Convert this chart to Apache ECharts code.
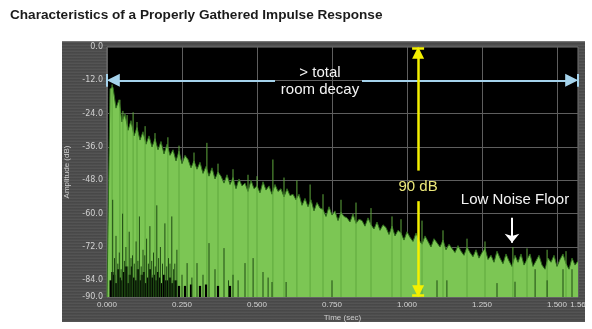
<!DOCTYPE html>
<html><head><meta charset="utf-8">
<script src="https://cdn.jsdelivr.net/npm/echarts@6/dist/echarts.min.js"></script>
<style>
html,body{margin:0;padding:0;background:#fff;}
#wrap{position:relative;width:592px;height:329px;}
#panel{position:absolute;left:62px;top:41px;width:523px;height:280px;
 background-color:#4b4b4b;
 background-image:repeating-linear-gradient(0deg,rgba(255,255,255,0.05) 0px,rgba(255,255,255,0.05) 1px,rgba(0,0,0,0.07) 2px,rgba(0,0,0,0) 3px);
 border-top:1px solid #777;}
#c{position:absolute;left:0;top:0;width:592px;height:329px;}
</style>
</head><body><div id="wrap"><div id="panel"></div><div id="c"></div></div>
<script>
const TITLE = 'Characteristics of a Properly Gathered Impulse Response';
const X_NAME = 'Time (sec)';
const Y_NAME = 'Amplitude (dB)';
const X_MIN = 0, X_MAX = 1.57, Y_MIN = -90, Y_MAX = 0;
const TIME_STEP = 0.01; // seconds between envelope samples

// upper envelope of the response, dB, one value per TIME_STEP starting at t = 0
const envelopeDb = [
 -90, -15, -14.5, -22, -19, -27, -24, -30, -26.5, -32,
 -29, -33.5, -30.5, -35, -32, -36, -33, -37, -34, -38.5,
 -35, -39, -37, -41, -37.5, -42, -39, -40.5, -43.5, -41,
 -44, -41.5, -45.5, -43, -46.5, -43.5, -47.5, -45, -46.5, -49,
 -46, -49.5, -47, -51, -47.5, -50, -49, -52, -48, -51,
 -50, -52.5, -48.5, -51.5, -50, -53, -49.5, -52, -51, -54,
 -51, -53.5, -53, -55, -53, -57, -54.5, -57.5, -55, -59,
 -56, -58, -58.5, -61, -57.5, -60.5, -59, -62.5, -59.5, -61,
 -61.5, -63, -60, -63.5, -62, -62.5, -64.5, -61.5, -64, -65.5,
 -63, -66, -64, -65, -67.5, -64.5, -68, -66, -67, -69.5,
 -66.5, -68.5, -70, -67, -69.5, -71, -68, -70, -72, -69,
 -70.5, -72, -69.5, -73, -71, -72.5, -74, -71.5, -73.5, -75,
 -72, -74, -75.5, -73, -76, -74, -72.5, -76.5, -75, -77.5,
 -73.5, -76, -78, -74.5, -77, -79, -75, -77.5, -74.5, -78.5,
 -76.5, -74.5, -79, -77, -75, -78.5, -80, -76, -77.5, -75,
 -79, -76.5, -74.5, -78, -80, -76, -78.5, -77
];

// isolated peaks that rise above the envelope: [time s, dB]
const spikes = [
 [0.017,-13.5],[0.043,-19],[0.053,-23],[0.067,-24.5],[0.087,-23.5],[0.1,-27],
 [0.127,-28.5],[0.16,-31],[0.203,-32.5],[0.24,-35.5],[0.29,-38],[0.333,-34.5],
 [0.37,-42],[0.42,-44],[0.47,-46],[0.5,-46.5],[0.553,-40.5],[0.59,-47],
 [0.633,-48],[0.677,-49.5],[0.72,-53],[0.78,-55],[0.83,-56],[0.88,-58],
 [0.95,-61],[0.98,-62],[1.05,-62.5],[1.12,-66],[1.2,-69],[1.26,-70],
 [1.353,-72],[1.4,-72.5],[1.467,-73],[1.53,-73.5]
];

// dark low-level samples rising from the floor: [time s, dB]
const floorDark = [
 [0.019,-55],[0.025,-76],[0.03,-68],[0.036,-78],[0.041,-74],[0.047,-80],[0.052,-60],
 [0.058,-77],[0.063,-72],[0.069,-79],[0.074,-66.5],[0.08,-76],[0.085,-75],[0.091,-78],
 [0.097,-70],[0.103,-77],[0.108,-61],[0.114,-79],[0.12,-73],[0.126,-75],[0.132,-69],
 [0.138,-78],[0.143,-64.5],[0.149,-77],[0.155,-74],[0.161,-79],[0.166,-57],[0.172,-76],
 [0.178,-72],[0.185,-78],[0.193,-63.5],[0.199,-79],[0.205,-76],[0.21,-78],[0.216,-61],
 [0.222,-80],[0.226,-78],[0.233,-73],[0.25,-82],[0.267,-77.8],[0.283,-83],[0.3,-77.8],
 [0.32,-82],[0.34,-70.6],[0.36,-80],[0.39,-72.4],[0.405,-84],[0.42,-82],[0.437,-84],
 [0.46,-77.8],[0.487,-76],[0.52,-81],[0.537,-83],[0.55,-84.6],[0.597,-84.6],[0.75,-84],
 [1.1,-84],[1.133,-84],[1.3,-85],[1.36,-84.5],[1.427,-80],[1.467,-84],[1.52,-80],[1.55,-80]
];

// near-silent samples at the start (black gaps at the floor): [time s, dB]
const floorBlack = [
 [0.012,-84],[0.018,-81],[0.024,-82],[0.03,-85],[0.037,-80],[0.043,-83],[0.05,-84],
 [0.056,-81],[0.063,-79],[0.07,-85],[0.076,-82],[0.083,-79],[0.09,-83],[0.096,-84],
 [0.103,-80],[0.11,-84],[0.116,-82],[0.123,-81],[0.13,-85],[0.136,-83],[0.143,-80],
 [0.15,-83],[0.156,-82],[0.163,-84],[0.17,-81],[0.176,-83],[0.183,-85],[0.19,-82],
 [0.196,-84],[0.203,-84],[0.21,-83],[0.216,-85],[0.223,-84],[0.23,-84],[0.24,-86],
 [0.26,-86],[0.28,-85.5],[0.31,-86],[0.33,-85.5],[0.37,-86],[0.41,-86]
];

const yTickValues = [0,-12,-24,-36,-48,-60,-72,-84,-90];
const yTickLabels = ['0.0','-12.0','-24.0','-36.0','-48.0','-60.0','-72.0','-84.0','-90.0'];
const xTickValues = [0,0.25,0.5,0.75,1,1.25,1.5,1.57];
const xTickLabels = ['0.000','0.250','0.500','0.750','1.000','1.250','1.500','1.56'];
const yGridValues = [-12,-24,-36,-48,-60,-72,-84];

// annotations
const decaySpanDb = -12;               // cyan "> total room decay" arrow level
const decayTextGap = [0.56, 0.85];     // gap in the cyan arrow for the text
const rangeTime = 1.037;               // yellow 90 dB arrow position
const rangeTextGap = [-44.5, -55.5];
const floorArrow = {t: 1.35, from: -61.5, to: -70.5};

const GREEN = '#7cc654';
const chart = echarts.init(document.getElementById('c'), null, {renderer: 'canvas'});

function vLines(color, width) {
  return function (params, api) {
    const top = api.coord([api.value(0), api.value(1)]);
    const bot = api.coord([api.value(0), Y_MIN]);
    return {type: 'line', shape: {x1: top[0], y1: top[1], x2: bot[0], y2: bot[1]},
      style: {stroke: color, lineWidth: width}};
  };
}
const tickLabel = (vals, labels) => v => {
  const i = vals.findIndex(x => Math.abs(x - v) < 1e-6);
  return i >= 0 ? labels[i] : '';
};

const CYAN = '#a5d3ec', YEL = '#f4f000';
const tri = 'triangle';
// half an arrowhead, in data units, so that the head's tip lands on the end point
const HEAD_T = 0.021, HEAD_DB = 2.1;
const solid = (color, width) => ({color: color, width: width, type: 'solid'});

const option = {
  animation: false,
  backgroundColor: 'transparent',
  title: {text: TITLE, left: 5, top: 3,
    textStyle: {fontFamily: 'Liberation Sans, Arial', fontSize: 13.6, fontWeight: 'bold', color: '#1b1b1b'}},
  grid: {left: 107, right: 14, top: 47, bottom: 32, show: true, backgroundColor: '#000', borderColor: '#777', borderWidth: 1},
  xAxis: {
    type: 'value', min: X_MIN, max: X_MAX, interval: 0.25,
    name: X_NAME, nameLocation: 'middle', nameGap: 13,
    nameTextStyle: {color: '#cfcfcf', fontSize: 8, fontFamily: 'Liberation Sans, Arial'},
    axisLine: {show: false}, axisTick: {show: false},
    axisLabel: {customValues: xTickValues, formatter: tickLabel(xTickValues, xTickLabels),
      color: '#d0d0d0', fontSize: 8, margin: 4, fontFamily: 'Liberation Sans, Arial', hideOverlap: false},
    splitLine: {show: true, lineStyle: {color: '#5e5e5e', width: 1}}
  },
  yAxis: {
    type: 'value', min: Y_MIN, max: Y_MAX,
    name: Y_NAME, nameLocation: 'middle', nameGap: 36, nameRotate: 90,
    nameTextStyle: {color: '#cfcfcf', fontSize: 8, fontFamily: 'Liberation Sans, Arial'},
    axisLine: {show: false}, axisTick: {show: false},
    axisLabel: {customValues: yTickValues, formatter: tickLabel(yTickValues, yTickLabels),
      color: '#d0d0d0', fontSize: 8, margin: 4, fontFamily: 'DejaVu Sans'},
    splitLine: {show: false}
  },
  series: [
    {type: 'line', name: 'grid', data: [], z: 1, silent: true,
      markLine: {silent: true, symbol: 'none', z: 1, label: {show: false},
        lineStyle: solid('#5e5e5e', 1),
        data: yGridValues.map(v => ({yAxis: v}))}},
    {type: 'line', name: 'envelope', z: 2, symbol: 'none', silent: true,
      data: envelopeDb.map((v, i) => [+(i * TIME_STEP).toFixed(3), v]),
      lineStyle: {color: '#2f6b1d', width: 1},
      areaStyle: {color: GREEN, origin: 'start', opacity: 1}},
    {type: 'custom', name: 'spikes', z: 3, silent: true, renderItem: vLines('#5ea83c', 1),
      encode: {x: 0, y: 1}, data: spikes},
    {type: 'custom', name: 'floorBlack', z: 4, silent: true, renderItem: vLines('#000', 2.2),
      encode: {x: 0, y: 1}, data: floorBlack},
    {type: 'custom', name: 'floorDark', z: 5, silent: true, renderItem: vLines('#1f4a13', 1),
      encode: {x: 0, y: 1}, data: floorDark},
    {type: 'line', name: 'annotations', data: [], z: 10, silent: true,
      markLine: {silent: true, z: 10, label: {show: false}, symbol: 'none', lineStyle: solid(CYAN, 2),
        data: [
          [{coord: [X_MIN + HEAD_T, decaySpanDb], symbol: tri, symbolSize: [13, 13], lineStyle: solid(CYAN, 2)},
           {coord: [decayTextGap[0], decaySpanDb], symbol: 'none'}],
          [{coord: [decayTextGap[1], decaySpanDb], symbol: 'none', lineStyle: solid(CYAN, 2)},
           {coord: [X_MAX - HEAD_T, decaySpanDb], symbol: tri, symbolSize: [13, 13]}],
          [{coord: [X_MIN, decaySpanDb + 2.3], lineStyle: solid(CYAN, 2)}, {coord: [X_MIN, decaySpanDb - 2.3]}],
          [{coord: [X_MAX, decaySpanDb + 2.3], lineStyle: solid(CYAN, 2)}, {coord: [X_MAX, decaySpanDb - 2.3]}],
          [{coord: [rangeTime, Y_MAX - HEAD_DB], symbol: tri, symbolSize: [12, 12], lineStyle: solid(YEL, 2.5)},
           {coord: [rangeTime, rangeTextGap[0]], symbol: 'none'}],
          [{coord: [rangeTime, rangeTextGap[1]], symbol: 'none', lineStyle: solid(YEL, 2.5)},
           {coord: [rangeTime, Y_MIN + HEAD_DB], symbol: tri, symbolSize: [12, 12]}],
          [{coord: [rangeTime - 0.02, Y_MAX - 0.5], lineStyle: solid(YEL, 2.5)}, {coord: [rangeTime + 0.02, Y_MAX - 0.5]}],
          [{coord: [rangeTime - 0.02, Y_MIN + 0.7], lineStyle: solid(YEL, 2.5)}, {coord: [rangeTime + 0.02, Y_MIN + 0.7]}],
          [{coord: [floorArrow.t, floorArrow.from], symbol: 'none', lineStyle: solid('#ffffff', 2)},
           {coord: [floorArrow.t, floorArrow.to], symbol: 'arrow', symbolSize: [11, 9]}]
        ]}}
  ]
};
chart.setOption(option);

const px = (t, v) => chart.convertToPixel({gridIndex: 0}, [t, v]);
const texts = [
  {id: 't1', text: '> total', at: [0.71, -9.3], color: '#f4f4f4'},
  {id: 't2', text: 'room decay', at: [0.71, -15.6], color: '#f4f4f4'},
  {id: 't3', text: '90 dB', at: [rangeTime, -50.2], color: '#ece87a'},
  {id: 't4', text: 'Low Noise Floor', at: [1.36, -55.2], color: '#f4f4f4'}
];
chart.setOption({
  graphic: texts.map(o => {
    const p = px(o.at[0], o.at[1]);
    return {type: 'text', id: o.id, x: p[0], y: p[1], z: 100,
      style: {text: o.text, fill: o.color, font: '15px "Liberation Sans", Arial', align: 'center', verticalAlign: 'middle'}};
  })
});
</script>
</body></html>
